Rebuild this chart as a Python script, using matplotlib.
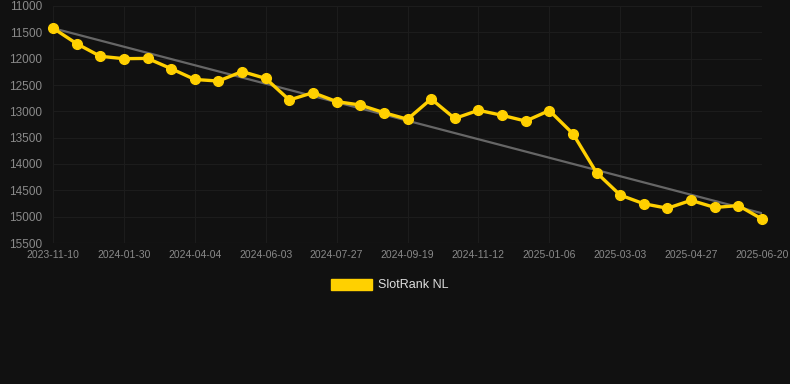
import matplotlib
matplotlib.use("Agg")
import matplotlib.pyplot as plt
from matplotlib.patches import Patch
import numpy as np

plt.rcParams["font.family"] = ["Liberation Sans", "DejaVu Sans"]

tick_labels = ["2023-11-10", "2024-01-30", "2024-04-04", "2024-06-03", "2024-07-27",
               "2024-09-19", "2024-11-12", "2025-01-06", "2025-03-03", "2025-04-27",
               "2025-06-20"]
rank_values = [11420, 11715, 11955, 12000, 11995, 12190, 12395, 12425, 12245, 12375,
               12785, 12645, 12815, 12880, 13025, 13150, 12765, 13135, 12980, 13075,
               13185, 12985, 13425, 14165, 14590, 14755, 14840, 14690, 14825, 14790,
               15045]
trend_values = [11445, 14935]  # trend line at first and last point
series_name = "SlotRank NL"
y_ticks = [11000, 11500, 12000, 12500, 13000, 13500, 14000, 14500, 15000, 15500]

W, H = 790, 384
fig = plt.figure(figsize=(W / 100, H / 100), dpi=100)
fig.patch.set_facecolor("#111111")
ax = fig.add_axes([53 / W, 1 - 243 / H, (762 - 53) / W, (243 - 6) / H])
ax.set_facecolor("#111111")

x = np.arange(len(rank_values))
y = np.array(rank_values, dtype=float)

# trend line
ax.plot([x[0] + 0.2, x[-1]], trend_values, color="#666666", lw=1.6, zorder=2)

ax.plot(x, y, color="#FFD000", lw=2.4, marker="o", markersize=7,
        markerfacecolor="#FFD000", markeredgecolor="#FFD000", zorder=3, clip_on=False)

ax.set_xlim(0, len(rank_values) - 1)
ax.set_ylim(15500, 11000)
ax.set_yticks(y_ticks)
ax.set_yticklabels([str(v) for v in y_ticks])
ax.set_xticks(x[::3])
ax.set_xticklabels(tick_labels)

ax.grid(True, color="#1c1c1c", lw=0.8)
ax.set_axisbelow(True)
for s in ax.spines.values():
    s.set_visible(False)
ax.axhline(15500, color="#2a2a2a", lw=0.8, zorder=1)
ax.tick_params(axis="y", length=0, pad=8, labelsize=8.5, labelcolor="#8a8a8a")
ax.tick_params(axis="x", length=0, pad=5, labelsize=7.5, labelcolor="#8a8a8a")

handle = Patch(facecolor="#FFD000", edgecolor="#FFD000")
leg = fig.legend([handle], [series_name], loc="center",
                 bbox_to_anchor=(390 / W, 1 - 285 / H), frameon=False,
                 fontsize=9, handlelength=3.3, handleheight=1.0, handletextpad=0.5)
for t in leg.get_texts():
    t.set_color("#dddddd")

fig.savefig("out.png", dpi=100, facecolor=fig.get_facecolor())
